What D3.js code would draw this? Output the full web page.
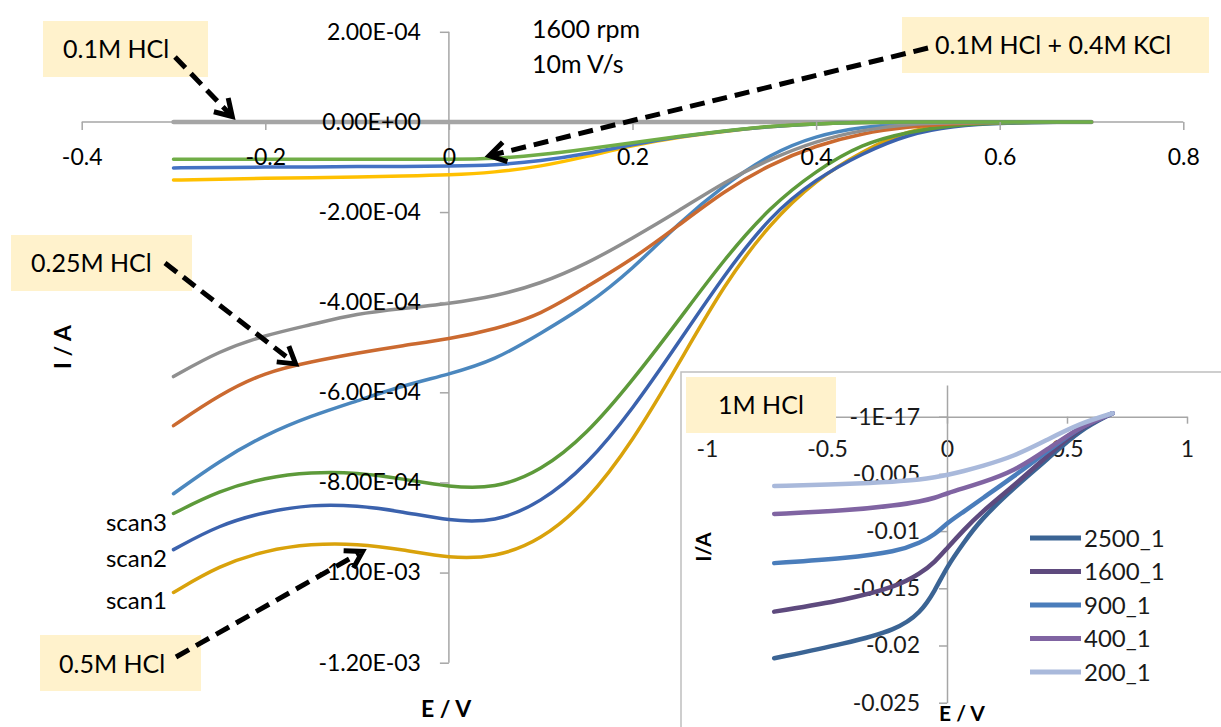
<!DOCTYPE html>
<html>
<head>
<meta charset="utf-8">
<script src="https://cdn.jsdelivr.net/npm/d3@7"></script>
<style>
  body { margin: 0; background: #fff; }
  svg { display: block; font-family: Lato, "Open Sans", sans-serif; }
</style>
</head>
<body>
<svg id="chart" width="1221" height="727"></svg>
<script>
// ---- main chart data: potential (V) and current in units of 1e-4 A ----
var potential = [-0.3, -0.25, -0.2, -0.15, -0.1, -0.05, 0, 0.05, 0.1, 0.15, 0.2, 0.25, 0.3, 0.35, 0.4, 0.45, 0.5, 0.55, 0.6, 0.7];

// 0.5M HCl
var hcl05_scan1 = [-10.44, -9.84, -9.51, -9.36, -9.36, -9.49, -9.68, -9.67, -9.29, -8.44, -7.10, -5.38, -3.60, -2.24, -1.28, -0.65, -0.18, -0.04, -0.01, 0];
var hcl05_scan2 = [-9.49, -8.94, -8.65, -8.49, -8.51, -8.65, -8.85, -8.89, -8.45, -7.63, -6.38, -4.90, -3.39, -2.08, -1.26, -0.70, -0.27, -0.09, -0.02, 0];
var hcl05_scan3 = [-8.69, -8.18, -7.89, -7.77, -7.78, -7.92, -8.10, -8.14, -7.75, -6.94, -5.74, -4.41, -3.04, -1.88, -1.08, -0.48, -0.22, -0.07, -0.02, 0];

// 0.25M HCl
var hcl025_a = [-8.25, -7.52, -6.94, -6.52, -6.19, -5.85, -5.60, -5.29, -4.69, -4.08, -3.27, -2.25, -1.40, -0.71, -0.30, -0.11, -0.03, 0, 0, 0];
var hcl025_b = [-6.74, -6.05, -5.55, -5.32, -5.13, -4.96, -4.82, -4.60, -4.28, -3.66, -3.05, -2.30, -1.53, -0.94, -0.52, -0.25, -0.11, -0.03, 0, 0];
var hcl025_c = [-5.65, -5.08, -4.73, -4.50, -4.25, -4.14, -4.03, -3.87, -3.59, -3.15, -2.58, -1.98, -1.33, -0.82, -0.42, -0.18, -0.05, -0.01, 0, 0];

// 0.1M HCl
var hcl01 = [0, 0, 0, 0, 0, 0, 0, 0, 0, 0, 0, 0, 0, 0, 0, 0, 0, 0, 0, 0];

// 0.1M HCl + 0.4M KCl
var kcl_gold = [-1.29, -1.27, -1.25, -1.24, -1.22, -1.20, -1.18, -1.12, -0.99, -0.77, -0.52, -0.34, -0.21, -0.10, -0.04, -0.01, 0, 0, 0, 0];
var kcl_blue = [-1.02, -1.01, -1.00, -1.00, -0.99, -0.99, -0.98, -0.96, -0.87, -0.71, -0.50, -0.33, -0.20, -0.10, -0.04, -0.01, 0, 0, 0, 0];
var kcl_green = [-0.83, -0.83, -0.83, -0.83, -0.83, -0.83, -0.83, -0.82, -0.73, -0.60, -0.46, -0.32, -0.20, -0.09, -0.04, -0.01, 0, 0, 0, 0];

var xTicks = [-0.4, -0.2, 0, 0.2, 0.4, 0.6, 0.8];
var xTickLabels = ["-0.4", "-0.2", "0", "0.2", "0.4", "0.6", "0.8"];
var yTicks = [2, 0, -2, -4, -6, -8, -10, -12];
var yTickLabels = ["2.00E-04", "0.00E+00", "-2.00E-04", "-4.00E-04", "-6.00E-04", "-8.00E-04", "-1.00E-03", "-1.20E-03"];
var scanLabels = ["scan3", "scan2", "scan1"];

// ---- inset (1M HCl) data: potential (V) and current (A) ----
var insetPotential = [-0.72, -0.42, -0.21, -0.11, -0.05, 0, 0.07, 0.14, 0.28, 0.42, 0.55, 0.69];
var rpm2500 = [-0.02112, -0.01981, -0.01864, -0.01715, -0.0152, -0.0131, -0.0110, -0.0090, -0.0062, -0.0037, -0.0012, 0.0003];
var rpm1600 = [-0.01704, -0.01602, -0.01486, -0.0137, -0.0127, -0.0115, -0.0099, -0.0084, -0.0060, -0.0034, -0.0010, 0.0003];
var rpm900 = [-0.0128, -0.01238, -0.0118, -0.0110, -0.0103, -0.0093, -0.0083, -0.00725, -0.0052, -0.0030, -0.0009, 0.0003];
var rpm400 = [-0.0085, -0.00822, -0.00775, -0.0074, -0.0071, -0.0067, -0.00625, -0.0058, -0.00477, -0.00284, -0.00093, 0.0003];
var rpm200 = [-0.00606, -0.00588, -0.00567, -0.0055, -0.0053, -0.0051, -0.00475, -0.00436, -0.00347, -0.00199, -0.00062, 0.0003];
var insetNames = ["2500_1", "1600_1", "900_1", "400_1", "200_1"];
var insetXTicks = [-1, -0.5, 0, 0.5, 1];
var insetXTickLabels = ["-1", "-0.5", "0", "0.5", "1"];
var insetYTicks = [0, -0.005, -0.01, -0.015, -0.02, -0.025];
var insetYTickLabels = ["-1E-17", "-0.005", "-0.01", "-0.015", "-0.02", "-0.025"];

var svg = d3.select("#chart");
var axisColor = "#a6a6a6";

// scales for main plot
var x = d3.scaleLinear().domain([-0.4, 0.8]).range([81.7, 1183.3]);
var y = d3.scaleLinear().domain([-12, 2]).range([662.7, 31.8]);

// axis lines first, so curves sit on top
svg.append("line").attr("x1", x(-0.4)).attr("x2", x(0.8)).attr("y1", y(0)).attr("y2", y(0))
  .attr("stroke", axisColor).attr("stroke-width", 1.5);
svg.append("line").attr("x1", x(0)).attr("x2", x(0)).attr("y1", y(2)).attr("y2", y(-12))
  .attr("stroke", axisColor).attr("stroke-width", 1.5);

// curves
var line = d3.line()
  .x(function(d, i) { return x(potential[i]); })
  .y(function(d) { return y(d); })
  .curve(d3.curveBasis);

var series = [
  { vals: hcl05_scan1, color: "#d9a20b", w: 3.5 },
  { vals: hcl05_scan2, color: "#3b62ad", w: 3.5 },
  { vals: hcl05_scan3, color: "#5d9a3a", w: 3.5 },
  { vals: hcl025_a, color: "#4b87be", w: 3.5 },
  { vals: hcl025_b, color: "#cb6a30", w: 3.5 },
  { vals: hcl025_c, color: "#8f8f8f", w: 3.5 },
  { vals: hcl01, color: "#a5a5a5", w: 4.5 },
  { vals: kcl_gold, color: "#ffc000", w: 3.5 },
  { vals: kcl_blue, color: "#4472c4", w: 3.5 },
  { vals: kcl_green, color: "#70ad47", w: 3.5 }
];
svg.append("g").selectAll("path").data(series).enter().append("path")
  .attr("d", function(d) { return line(d.vals); })
  .attr("fill", "none")
  .attr("stroke", function(d) { return d.color; })
  .attr("stroke-width", function(d) { return d.w; })
  .attr("stroke-linecap", "round");

// axes (ticks + labels) over the curves
var xAxis = svg.append("g")
  .attr("transform", "translate(0," + y(0) + ")")
  .call(d3.axisBottom(x).tickValues(xTicks).tickSize(8).tickSizeOuter(0).tickPadding(19)
    .tickFormat(function(d, i) { return xTickLabels[i]; }));
var yAxis = svg.append("g")
  .attr("transform", "translate(" + x(0) + ",0)")
  .call(d3.axisLeft(y).tickValues(yTicks).tickSize(9).tickSizeOuter(0).tickPadding(19)
    .tickFormat(function(d, i) { return yTickLabels[i]; }));
[xAxis, yAxis].forEach(function(g) {
  g.select(".domain").remove();
  g.selectAll(".tick line").attr("stroke", axisColor).attr("stroke-width", 1.5);
  g.selectAll(".tick text").attr("fill", "#000").style("font-size", "23px").style("font-family", "Lato");
});

// scan labels beside 0.5M curves
var scanVals = [hcl05_scan3[0], hcl05_scan2[0], hcl05_scan1[0]];
svg.selectAll(".scan").data(scanLabels).enter().append("text")
  .attr("x", 167)
  .attr("y", function(d, i) { return y(scanVals[i]) + 17; })
  .attr("text-anchor", "end")
  .style("font-size", "24px")
  .text(function(d) { return d; });

// titles
svg.append("text").attr("x", 532).attr("y", 38).style("font-size", "25px").text("1600 rpm");
svg.append("text").attr("x", 532).attr("y", 73).style("font-size", "25px").text("10m V/s");
svg.append("text").attr("x", 446).attr("y", 717).attr("text-anchor", "middle")
  .style("font-size", "23px").style("font-weight", "bold").text("E / V");
svg.append("text").attr("transform", "translate(71,347) rotate(-90)").attr("text-anchor", "middle")
  .style("font-size", "23px").style("font-weight", "bold").text("I / A");

// annotations: label boxes with dashed arrows pointing at curves
var notes = [
  { text: "0.1M HCl", bx: 43, by: 21, bw: 165, bh: 56, tx: 63, ty: 58, sx: 175, sy: 57, e: -0.236, i: 0.12 },
  { text: "0.1M HCl + 0.4M KCl", bx: 902, by: 17, bw: 307, bh: 56, tx: 935, ty: 54, sx: 928, sy: 48, e: 0.044, i: -0.75 },
  { text: "0.25M HCl", bx: 11, by: 235, bw: 181, bh: 56, tx: 31, ty: 272, sx: 165, sy: 263, e: -0.167, i: -5.37 },
  { text: "0.5M HCl", bx: 40, by: 635, bw: 161, bh: 56, tx: 59, ty: 673, sx: 176, sy: 657, e: -0.094, i: -9.53 }
];
notes.forEach(function(n) {
  svg.append("rect").attr("x", n.bx).attr("y", n.by).attr("width", n.bw).attr("height", n.bh).attr("fill", "#fff2cc");
  svg.append("text").attr("x", n.tx).attr("y", n.ty).style("font-size", "25px").text(n.text);
  var ex = x(n.e), ey = y(n.i);
  var a = Math.atan2(ey - n.sy, ex - n.sx);
  svg.append("line").attr("x1", n.sx).attr("y1", n.sy)
    .attr("x2", ex - 4 * Math.cos(a)).attr("y2", ey - 4 * Math.sin(a))
    .attr("stroke", "#000").attr("stroke-width", 5).attr("stroke-dasharray", "15,8");
  var L = 19, s = 0.55;
  svg.append("path")
    .attr("d", "M" + (ex - L * Math.cos(a - s)) + "," + (ey - L * Math.sin(a - s)) +
      "L" + ex + "," + ey +
      "L" + (ex - L * Math.cos(a + s)) + "," + (ey - L * Math.sin(a + s)))
    .attr("fill", "none").attr("stroke", "#000").attr("stroke-width", 5).attr("stroke-linejoin", "miter");
});

// ---- inset chart ----
var inset = svg.append("g");
inset.append("rect").attr("x", 681).attr("y", 372).attr("width", 560).attr("height", 380)
  .attr("fill", "#fff").attr("stroke", "#bfbfbf").attr("stroke-width", 1.5);

var ix = d3.scaleLinear().domain([-1, 1]).range([707, 1187]);
var iy = d3.scaleLinear().domain([-0.025, 0.00277]).range([702.7, 385]);

var ixAxis = inset.append("g").attr("transform", "translate(0," + iy(0) + ")")
  .call(d3.axisBottom(ix).tickValues(insetXTicks).tickSize(7).tickSizeOuter(0).tickPadding(17)
    .tickFormat(function(d, i) { return insetXTickLabels[i]; }));
var iyAxis = inset.append("g").attr("transform", "translate(" + ix(0) + ",0)")
  .call(d3.axisLeft(iy).tickValues(insetYTicks).tickSize(8).tickSizeOuter(0).tickPadding(19)
    .tickFormat(function(d, i) { return insetYTickLabels[i]; }));
[ixAxis, iyAxis].forEach(function(g) {
  g.select(".domain").attr("stroke", axisColor).attr("stroke-width", 1.5);
  g.selectAll(".tick line").attr("stroke", axisColor).attr("stroke-width", 1.5);
  g.selectAll(".tick text").attr("fill", "#1a1a1a").style("font-size", "23px").style("font-family", "Lato");
});

var iline = d3.line()
  .x(function(d, i) { return ix(insetPotential[i]); })
  .y(function(d) { return iy(d); })
  .curve(d3.curveBasis);
var insetSeries = [rpm2500, rpm1600, rpm900, rpm400, rpm200];
var insetColors = ["#3b6494", "#5e4a7e", "#4a7dbb", "#8064a2", "#a9b9db"];
inset.append("g").selectAll("path").data(insetSeries).enter().append("path")
  .attr("d", function(d) { return iline(d); })
  .attr("fill", "none")
  .attr("stroke", function(d, i) { return insetColors[i]; })
  .attr("stroke-width", 4.5)
  .attr("stroke-linecap", "round");

// inset legend
var leg = inset.append("g");
insetNames.forEach(function(name, i) {
  var cy = 538 + i * 33.5;
  leg.append("line").attr("x1", 1030).attr("x2", 1081).attr("y1", cy).attr("y2", cy)
    .attr("stroke", insetColors[i]).attr("stroke-width", 5);
  leg.append("text").attr("x", 1084).attr("y", cy + 8.5).style("font-size", "24px").attr("fill", "#1a1a1a").text(name);
});

// inset titles
inset.append("text").attr("x", 962).attr("y", 721).attr("text-anchor", "middle")
  .style("font-size", "21px").style("font-weight", "bold").text("E / V");
inset.append("text").attr("transform", "translate(711,547) rotate(-90)").attr("text-anchor", "middle")
  .style("font-size", "21px").style("font-weight", "bold").text("I/A");

inset.append("rect").attr("x", 686).attr("y", 377).attr("width", 150).attr("height", 56).attr("fill", "#fff2cc");
inset.append("text").attr("x", 718).attr("y", 414).style("font-size", "25px").text("1M HCl");
</script>
</body>
</html>
